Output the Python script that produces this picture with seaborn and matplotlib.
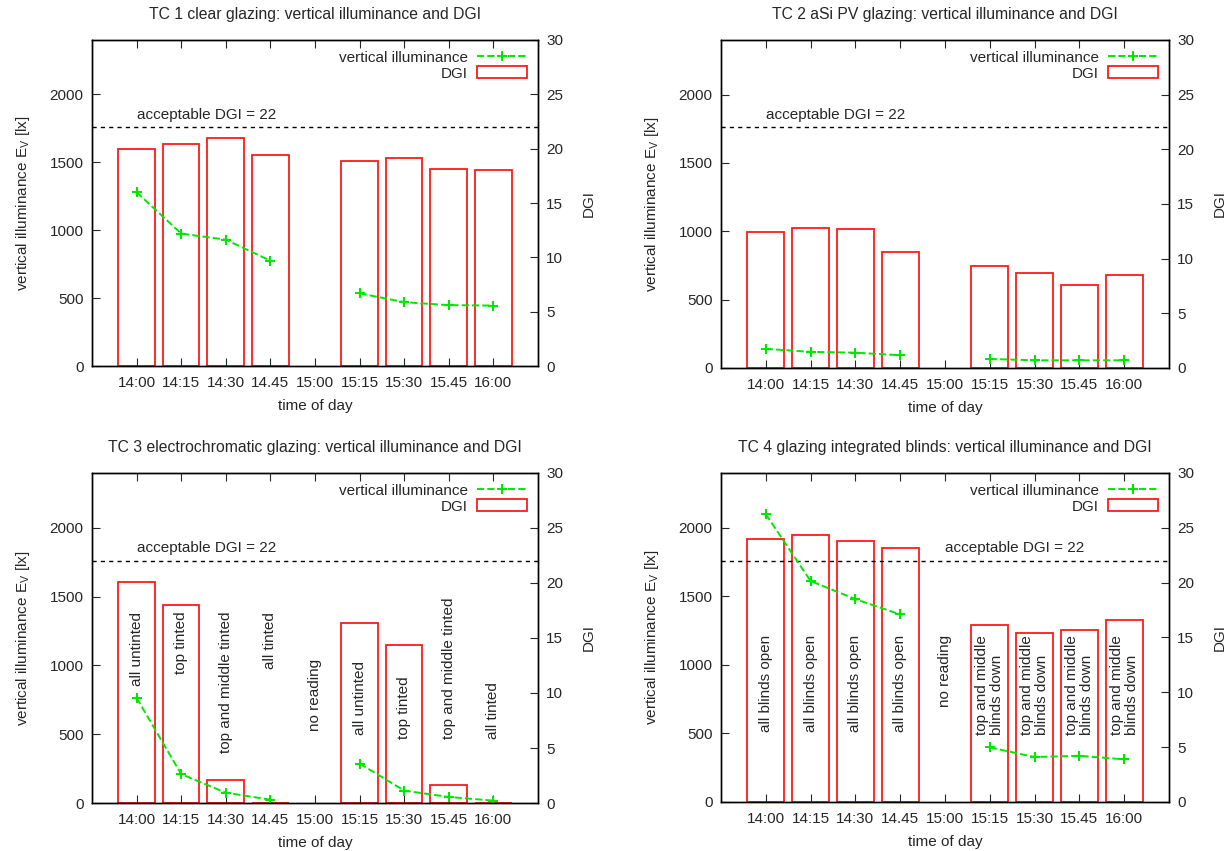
import numpy as np
import pandas as pd
import seaborn as sns
import matplotlib.pyplot as plt
from matplotlib.lines import Line2D
from matplotlib.patches import Patch

# time slots (15:00 has no reading)
times = ['14:00', '14:15', '14:30', '14.45', '15:00', '15:15', '15:30', '15.45', '16:00']
nan = np.nan

titles = [
    'TC 1 clear glazing: vertical illuminance and DGI',
    'TC 2 aSi PV glazing: vertical illuminance and DGI',
    'TC 3 electrochromatic glazing: vertical illuminance and DGI',
    'TC 4 glazing integrated blinds: vertical illuminance and DGI',
]

# DGI values (right axis)
tc1_dgi = [20.0, 20.4, 21.0, 19.4, nan, 18.9, 19.1, 18.1, 18.05]
tc2_dgi = [12.4, 12.8, 12.7, 10.6, nan, 9.3, 8.7, 7.55, 8.5]
tc3_dgi = [20.05, 18.0, 2.1, 0.0, nan, 16.4, 14.4, 1.6, 0.0]
tc4_dgi = [24.0, 24.3, 23.8, 23.15, nan, 16.1, 15.4, 15.65, 16.6]

# vertical illuminance in lx (left axis)
tc1_ev = [1280, 975, 930, 775, nan, 535, 470, 448, 445]
tc2_ev = [140, 118, 112, 93, nan, 66, 56, 56, 56]
tc3_ev = [765, 210, 75, 24, nan, 287, 90, 44, 17]
tc4_ev = [2100, 1612, 1480, 1368, nan, 398, 328, 337, 311]

# control state notes
tc3_notes = ['all untinted', 'top tinted', 'top and middle tinted', 'all tinted', 'no reading',
             'all untinted', 'top tinted', 'top and middle tinted', 'all tinted']
tc4_notes = ['all blinds open'] * 4 + ['no reading'] + ['top and middle\nblinds down'] * 4

dgi_limit = 22

# layout of the notes: (anchor y in lx, which end of the text sits on it)
tc3_note_pos = [(1390, 'right')] * 4 + [(522, 'left'), (493, 'left'), (469, 'left'),
                                        (469, 'left'), (469, 'left')]
tc4_note_pos = [(1218, 'right')] * 9

sns.set_style('ticks', {'xtick.direction': 'in', 'ytick.direction': 'in'})
plt.rcParams['font.family'] = ['Liberation Sans', 'DejaVu Sans']
plt.rcParams['mathtext.default'] = 'regular'
plt.rcParams['font.size'] = 11

green = '#00e800'
red = '#ff1a1a'

fig = plt.figure(figsize=(12.28, 8.51), dpi=100)
rects = [
    [0.0749, 0.5699, 0.3632, 0.3831],
    [0.5871, 0.5676, 0.3648, 0.3854],
    [0.0749, 0.0564, 0.3632, 0.3878],
    [0.5871, 0.0576, 0.3648, 0.3866],
]
dgis = [tc1_dgi, tc2_dgi, tc3_dgi, tc4_dgi]
evs = [tc1_ev, tc2_ev, tc3_ev, tc4_ev]
notes = [None, None, (tc3_notes, tc3_note_pos), (tc4_notes, tc4_note_pos)]
limit_label_x = [0, 0, 0, 4]

pos = np.arange(len(times))

for i in range(4):
    ax = fig.add_axes(rects[i])
    ax2 = ax.twinx()

    # DGI bars on the right axis
    bars = pd.DataFrame({'time': times, 'dgi': dgis[i]}).dropna()
    sns.barplot(data=bars, x='time', y='dgi', order=times, ax=ax2, fill=False,
                color=red, linewidth=1.3, width=0.82, errorbar=None)
    ax2.axhline(dgi_limit, color='black', ls=(0, (3, 3)), lw=1)
    ax2.set_ylim(0, 30)
    ax2.set_yticks(np.arange(0, 31, 5))
    ax2.set_ylabel('DGI', labelpad=13)
    ax2.tick_params(axis='y', direction='in', length=6, right=True, pad=6)

    # illuminance line on the left axis, broken at the missing reading
    ev = np.array(evs[i], dtype=float)
    for seg in [pos < 4, pos > 4]:
        sns.lineplot(x=pos[seg], y=ev[seg], ax=ax, color=green, ls='--', lw=1.4,
                     marker='+', markersize=7, markeredgewidth=1.5,
                     markeredgecolor=green, estimator=None, sort=False)

    ax.set_zorder(ax2.get_zorder() + 1)
    ax.patch.set_visible(False)

    ax.set_ylim(0, 2400)
    ax.set_yticks(np.arange(0, 2001, 500))
    ax.set_xlim(-1, len(times))
    ax.set_xticks(pos)
    ax.set_xticklabels(times)
    ax.tick_params(axis='x', direction='in', length=6, top=True, pad=7)
    ax.tick_params(axis='y', direction='in', length=6, left=True, right=False, pad=6)
    ax.set_xlabel('time of day', labelpad=7)
    ax.set_ylabel(r'vertical illuminance E$_{V}$ [lx]', labelpad=13)
    ax.set_title(titles[i], pad=15, fontsize=11.3)

    ax.text(limit_label_x[i], dgi_limit * 80 + 40, 'acceptable DGI = %d' % dgi_limit,
            ha='left', va='bottom')

    if notes[i] is not None:
        texts, places = notes[i]
        for k, (t, (y, end)) in enumerate(zip(texts, places)):
            ax.text(pos[k], y, t, rotation=90, rotation_mode='anchor', ha=end,
                    va='center', multialignment='left', linespacing=1.1)

    for a in (ax, ax2):
        for sp in a.spines.values():
            sp.set_color('black')
            sp.set_linewidth(1)

    handles = [
        Line2D([], [], color=green, ls='--', lw=1.4, marker='+', markersize=7,
               markeredgewidth=1.5),
        Patch(facecolor='none', edgecolor=red, linewidth=1.3),
    ]
    ax.legend(handles, ['vertical illuminance', 'DGI'], loc='upper right', frameon=False,
              markerfirst=False, handlelength=3.3, handleheight=0.8, labelspacing=0.1,
              borderaxespad=0.3, handletextpad=0.6)

fig.savefig('out.png', dpi=100)
